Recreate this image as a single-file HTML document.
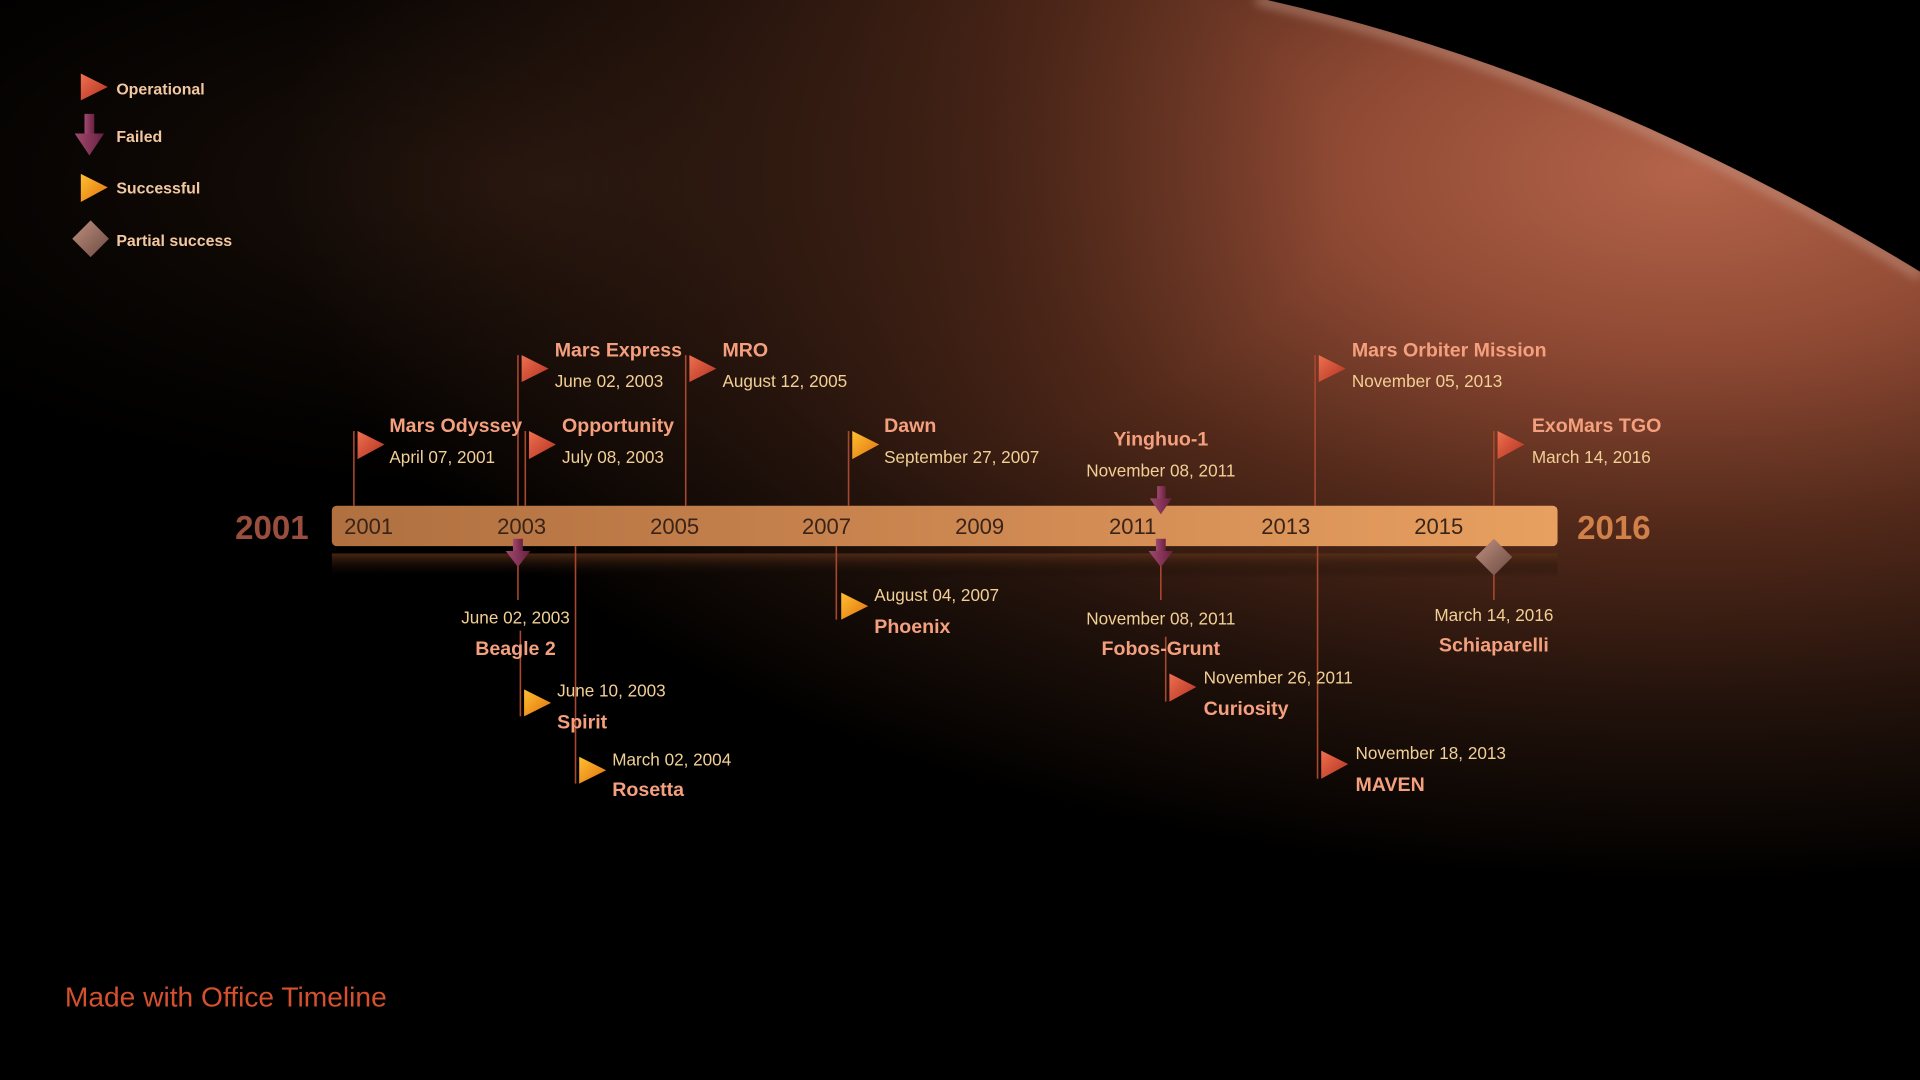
<!DOCTYPE html>
<html><head><meta charset="utf-8"><style>
html,body{margin:0;padding:0;background:#000;width:1920px;height:1080px;overflow:hidden}
svg{display:block}
text{font-family:"Liberation Sans",sans-serif}
.t{font-weight:bold;font-size:16px;fill:#f4a07e}
.d{font-size:14px;fill:#f2cf94}
.y{font-size:18px;fill:#3a2418}
.l{font-weight:bold;font-size:13px;fill:#f2c8a0}
</style></head><body>
<svg width="1920" height="1080" viewBox="0 0 1568 882" xmlns="http://www.w3.org/2000/svg">
<defs>
<radialGradient id="mars2" cx="0" cy="0" r="1" gradientUnits="userSpaceOnUse" gradientTransform="translate(1380 140) scale(1150 580)">
<stop offset="0" stop-color="#b4644a"/>
<stop offset="0.25" stop-color="#904a34"/>
<stop offset="0.5" stop-color="#52291a"/>
<stop offset="0.75" stop-color="#22120b"/>
<stop offset="1" stop-color="#000"/>
</radialGradient>
<radialGradient id="tl" cx="0" cy="0" r="1" gradientUnits="userSpaceOnUse" gradientTransform="translate(450 150) scale(650 260)">
<stop offset="0" stop-color="#301c12" stop-opacity="0.7"/>
<stop offset="1" stop-color="#1a0e08" stop-opacity="0"/>
</radialGradient>
<linearGradient id="bar" x1="0" y1="0" x2="1" y2="0">
<stop offset="0" stop-color="#b07040"/>
<stop offset="0.5" stop-color="#cc8650"/>
<stop offset="1" stop-color="#e8a060"/>
</linearGradient>
<linearGradient id="refl" x1="0" y1="0" x2="0" y2="1">
<stop offset="0" stop-color="#5a3018" stop-opacity="0.8"/>
<stop offset="1" stop-color="#000" stop-opacity="0"/>
</linearGradient>
<linearGradient id="red" x1="0" y1="0" x2="1" y2="1">
<stop offset="0" stop-color="#f07050"/><stop offset="1" stop-color="#b03020"/>
</linearGradient>
<linearGradient id="yel" x1="0" y1="0" x2="1" y2="1">
<stop offset="0" stop-color="#ffc030"/><stop offset="1" stop-color="#e07010"/>
</linearGradient>
<linearGradient id="pur" x1="0" y1="0" x2="1" y2="0">
<stop offset="0" stop-color="#a04a70"/><stop offset="1" stop-color="#6a2040"/>
</linearGradient>
<linearGradient id="dia" x1="0" y1="0" x2="1" y2="1">
<stop offset="0" stop-color="#c09080"/><stop offset="1" stop-color="#6a4a40"/>
</linearGradient>
<filter id="blur"><feGaussianBlur stdDeviation="4"/></filter>
</defs>
<rect width="1568" height="882" fill="#000"/>
<rect width="1568" height="882" fill="url(#mars2)"/>
<rect width="1568" height="882" fill="url(#tl)"/>
<path d="M1026,0 Q1300,60 1568,225" fill="none" stroke="#c8a090" stroke-width="8" opacity="0.5" filter="url(#blur)"/>
<path d="M1026,-2 Q1300,58 1570,223 L1570,-2 Z" fill="#000"/>

<polygon points="66,60 88,71 66,82" fill="url(#red)"/>
<text class="l" x="95" y="77">Operational</text>
<rect x="69" y="93" width="8" height="18" fill="url(#pur)"/><polygon points="61,109 85,109 73,127" fill="url(#pur)"/>
<text class="l" x="95" y="116">Failed</text>
<polygon points="66,142 88,153 66,165" fill="url(#yel)"/>
<text class="l" x="95" y="158">Successful</text>
<polygon points="74,180 89,195 74,210 59,195" fill="url(#dia)"/>
<text class="l" x="95" y="201">Partial success</text>

<rect x="271" y="452" width="1001" height="20" fill="url(#refl)"/>
<rect x="271" y="413" width="1001" height="33" rx="4" fill="url(#bar)"/>
<text class="y" x="301" y="436" text-anchor="middle">2001</text><text class="y" x="426" y="436" text-anchor="middle">2003</text>
<text class="y" x="551" y="436" text-anchor="middle">2005</text><text class="y" x="675" y="436" text-anchor="middle">2007</text>
<text class="y" x="800" y="436" text-anchor="middle">2009</text><text class="y" x="925" y="436" text-anchor="middle">2011</text>
<text class="y" x="1050" y="436" text-anchor="middle">2013</text><text class="y" x="1175" y="436" text-anchor="middle">2015</text>
<text x="222" y="440" text-anchor="middle" font-size="27" font-weight="bold" fill="#9a4e3e">2001</text>
<text x="1318" y="440" text-anchor="middle" font-size="27" font-weight="bold" fill="#d08048">2016</text>

<g stroke="#a8482e" stroke-width="1.3">
<line x1="289" y1="352" x2="289" y2="413"/><line x1="423" y1="290" x2="423" y2="413"/>
<line x1="429" y1="352" x2="429" y2="413"/><line x1="560" y1="290" x2="560" y2="413"/>
<line x1="693" y1="352" x2="693" y2="413"/><line x1="1074" y1="290" x2="1074" y2="413"/>
<line x1="1220" y1="352" x2="1220" y2="413"/>
<line x1="423" y1="446" x2="423" y2="490"/><line x1="425" y1="515" x2="425" y2="585"/>
<line x1="470" y1="446" x2="470" y2="640"/><line x1="683" y1="446" x2="683" y2="506"/>
<line x1="948" y1="446" x2="948" y2="490"/><line x1="952" y1="520" x2="952" y2="573"/>
<line x1="1076" y1="446" x2="1076" y2="636"/><line x1="1220" y1="460" x2="1220" y2="490"/>
</g>

<polygon points="292,352 314,363 292,375" fill="url(#red)"/>
<polygon points="426,290 448,301 426,312" fill="url(#red)"/>
<polygon points="432,352 454,363 432,375" fill="url(#red)"/>
<polygon points="563,290 585,301 563,312" fill="url(#red)"/>
<polygon points="696,352 718,363 696,375" fill="url(#yel)"/>
<polygon points="1077,290 1099,301 1077,312" fill="url(#red)"/>
<polygon points="1223,352 1245,363 1223,375" fill="url(#red)"/>
<rect x="945" y="397" width="7" height="12" fill="url(#pur)"/><polygon points="939,407 957,407 948,420" fill="url(#pur)"/>

<text class="t" x="318" y="353">Mars Odyssey</text><text class="d" x="318" y="378">April 07, 2001</text>
<text class="t" x="453" y="291">Mars Express</text><text class="d" x="453" y="316">June 02, 2003</text>
<text class="t" x="459" y="353">Opportunity</text><text class="d" x="459" y="378">July 08, 2003</text>
<text class="t" x="590" y="291">MRO</text><text class="d" x="590" y="316">August 12, 2005</text>
<text class="t" x="722" y="353">Dawn</text><text class="d" x="722" y="378">September 27, 2007</text>
<text class="t" x="948" y="364" text-anchor="middle">Yinghuo-1</text><text class="d" x="948" y="389" text-anchor="middle">November 08, 2011</text>
<text class="t" x="1104" y="291">Mars Orbiter Mission</text><text class="d" x="1104" y="316">November 05, 2013</text>
<text class="t" x="1251" y="353">ExoMars TGO</text><text class="d" x="1251" y="378">March 14, 2016</text>

<rect x="419" y="440" width="8" height="12" fill="url(#pur)"/><polygon points="413,450 433,450 423,463" fill="url(#pur)"/>
<rect x="944" y="440" width="8" height="12" fill="url(#pur)"/><polygon points="938,450 958,450 948,463" fill="url(#pur)"/>
<polygon points="1220,440 1235,455 1220,470 1205,455" fill="url(#dia)"/>
<polygon points="428,563 450,574 428,585" fill="url(#yel)"/>
<polygon points="473,618 495,629 473,640" fill="url(#yel)"/>
<polygon points="687,484 709,495 687,506" fill="url(#yel)"/>
<polygon points="955,550 977,561 955,573" fill="url(#red)"/>
<polygon points="1079,613 1101,624 1079,636" fill="url(#red)"/>

<text class="d" x="421" y="509" text-anchor="middle">June 02, 2003</text><text class="t" x="421" y="535" text-anchor="middle">Beagle 2</text>
<text class="d" x="455" y="569">June 10, 2003</text><text class="t" x="455" y="595">Spirit</text>
<text class="d" x="500" y="625">March 02, 2004</text><text class="t" x="500" y="650">Rosetta</text>
<text class="d" x="714" y="491">August 04, 2007</text><text class="t" x="714" y="517">Phoenix</text>
<text class="d" x="948" y="510" text-anchor="middle">November 08, 2011</text><text class="t" x="948" y="535" text-anchor="middle">Fobos-Grunt</text>
<text class="d" x="983" y="558">November 26, 2011</text><text class="t" x="983" y="584">Curiosity</text>
<text class="d" x="1107" y="620">November 18, 2013</text><text class="t" x="1107" y="646">MAVEN</text>
<text class="d" x="1220" y="507" text-anchor="middle">March 14, 2016</text><text class="t" x="1220" y="532" text-anchor="middle">Schiaparelli</text>

<text x="53" y="822" font-size="23" fill="#d4502e">Made with Office Timeline</text>
</svg>
</body></html>
